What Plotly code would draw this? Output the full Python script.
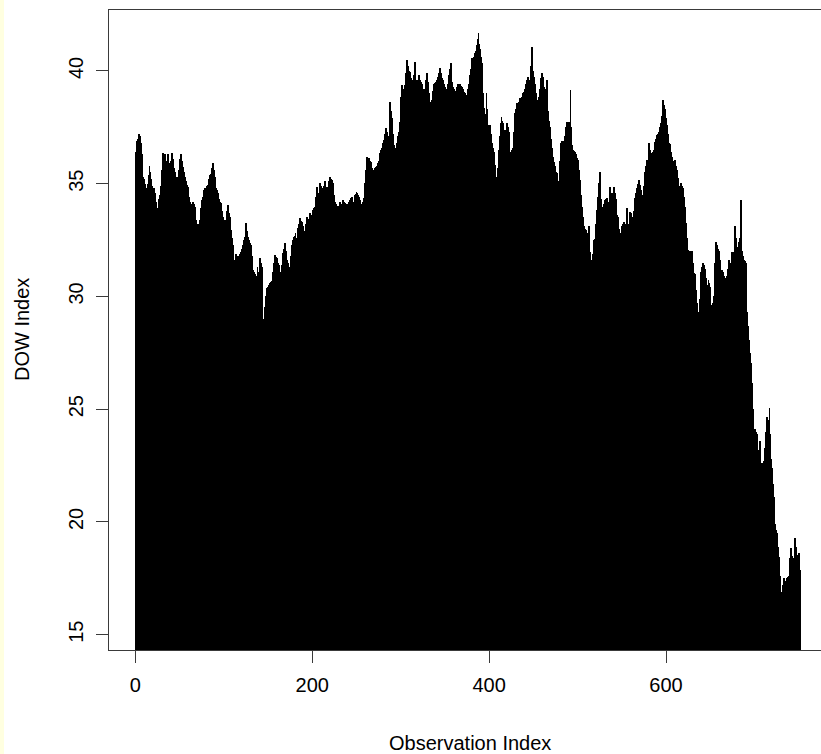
import plotly.graph_objects as go

# Daily DOW index level, one value per observation
dow_values = [
    36.4, 36.9, 37.0, 37.2, 37.1, 36.8, 36.3, 35.8, 35.3, 35.2,
    35.0, 34.6, 34.8, 35.0, 35.4, 35.8, 35.5, 35.2, 34.9, 34.7,
    34.8, 34.6, 34.2, 33.8, 33.9, 33.8, 34.3, 34.5, 34.9, 35.6,
    36.35, 36.2, 36.3, 36.0, 35.9, 36.0, 36.3, 35.9, 35.7, 36.0,
    36.35, 36.2, 36.1, 35.7, 35.5, 35.24, 35.3, 35.24, 35.6, 36.1,
    36.2, 36.3, 36.0, 35.75, 35.5, 35.3, 35.1, 34.94, 34.85, 34.6,
    34.42, 34.2, 33.98, 34.1, 34.2, 34.1, 33.98, 33.7, 33.39, 33.2,
    33.1, 33.2, 33.4, 33.9, 34.28, 34.4, 34.6, 34.72, 34.8, 34.8,
    34.9, 34.94, 35.2, 35.39, 35.45, 35.5, 35.7, 35.9, 35.6, 35.3,
    34.8, 34.7, 34.6, 34.4, 34.3, 34.2, 34.13, 33.8, 33.54, 33.4,
    33.24, 33.4, 33.5, 33.8, 34.05, 33.7, 33.5, 32.95, 32.6, 32.28,
    31.6, 31.03, 31.5, 31.9, 31.8, 31.75, 31.8, 31.9, 31.95, 31.98,
    32.1, 32.3, 32.5, 32.65, 33.24, 32.9, 32.65, 32.5, 32.4, 32.36,
    32.3, 31.8, 31.17, 31.1, 31.0, 30.58, 30.9, 31.32, 31.1, 30.9,
    31.69, 31.5, 31.3, 28.73, 29.0, 29.2, 29.55, 30.0, 30.36, 30.4,
    30.5, 30.6, 30.65, 30.7, 30.9, 31.1, 31.5, 31.84, 31.75, 31.7,
    31.5, 31.4, 31.2, 31.1, 31.0, 31.4, 31.91, 32.1, 32.36, 32.0,
    31.6, 31.55, 31.5, 31.3, 31.2, 31.8, 32.3, 32.5, 32.65, 32.7,
    32.8, 32.6, 32.36, 33.02, 33.2, 33.46, 33.35, 33.3, 33.2, 33.1,
    32.9, 32.8, 33.2, 33.54, 33.45, 33.4, 33.69, 33.5, 33.4, 33.6,
    33.83, 33.9, 33.98, 34.4, 34.87, 34.5, 34.2, 34.6, 35.02, 34.9,
    34.8, 34.8, 34.9, 35.1, 35.0, 34.8, 34.85, 34.85, 35.1, 35.31,
    35.2, 35.15, 35.05, 35.0, 34.5, 34.2, 34.1, 34.0, 33.83, 34.0,
    34.2, 34.0, 33.9, 34.1, 34.28, 34.2, 34.13, 34.1, 34.05, 34.1,
    34.13, 34.2, 34.28, 34.35, 34.42, 34.2, 34.13, 34.5, 34.55, 34.64,
    34.6, 34.5, 34.4, 34.28, 34.1, 33.97, 34.2, 34.35, 34.7, 35.02,
    35.6, 36.2, 36.1, 36.15, 36.0, 35.95, 35.9, 35.7, 35.5, 35.6,
    35.7, 35.75, 35.8, 35.9, 36.0, 36.2, 36.35, 36.5, 36.6, 36.8,
    36.93, 37.2, 37.46, 37.3, 37.2, 37.1, 37.0, 38.64, 38.2, 37.9,
    37.2, 36.7, 36.5, 36.4, 36.6, 36.8, 37.1, 37.3, 37.75, 38.86,
    39.38, 39.1, 39.15, 39.2, 39.38, 39.9, 40.48, 40.2, 40.0, 39.95,
    39.9, 39.7, 39.6, 39.3, 39.8, 40.4, 39.6, 38.9, 39.4, 39.6,
    39.82, 39.6, 39.5, 39.4, 39.2, 39.1, 39.2, 39.3, 39.6, 39.9,
    39.5, 39.0, 38.64, 38.3, 38.7, 39.1, 39.3, 39.4, 39.45, 39.52,
    39.6, 39.75, 39.9, 40.12, 40.0, 39.9, 39.7, 39.6, 39.4, 39.3,
    39.1, 39.2, 39.4, 39.6, 39.8, 40.1, 40.34, 39.5, 39.3, 39.2,
    39.1, 39.0, 39.2, 39.3, 39.4, 39.35, 39.4, 39.35, 39.3, 39.2,
    39.1, 39.05, 39.0, 38.95, 38.9, 39.2, 39.4, 39.8, 40.1, 40.3,
    40.56, 40.5, 40.6, 40.78, 40.9, 41.15, 41.4, 41.67, 41.2, 40.95,
    40.6, 40.34, 39.0, 38.35, 38.1, 37.9, 39.0, 38.3, 37.6, 37.5,
    37.6, 37.2, 36.79, 36.6, 36.4, 36.1, 35.83, 35.3, 34.87, 35.7,
    36.5, 37.1, 37.68, 37.97, 37.8, 37.68, 37.4, 37.1, 37.4, 37.68,
    37.5, 37.3, 36.8, 36.35, 36.4, 36.5, 36.6, 37.3, 38.12, 38.3,
    38.57, 38.45, 38.35, 38.6, 38.79, 38.8, 38.85, 39.0, 39.08, 39.15,
    39.2, 39.4, 39.6, 39.75, 39.6, 39.5, 40.2, 41.08, 40.4, 40.0,
    39.75, 39.4, 39.0, 38.64, 38.7, 38.85, 39.2, 39.4, 39.7, 39.9,
    39.75, 39.3, 38.85, 39.2, 39.6, 38.8, 38.2, 37.8, 37.53, 37.0,
    36.6, 36.2, 35.98, 35.8, 35.7, 35.5, 35.46, 35.1, 34.8, 36.0,
    36.79, 36.9, 36.8, 36.7, 36.9, 37.1, 37.5, 37.75, 37.7, 37.75,
    36.9, 39.15, 37.5, 36.7, 36.5, 36.45, 36.4, 36.3, 36.13, 36.05,
    35.98, 35.6, 35.16, 34.5, 33.98, 33.5, 33.1, 33.0, 32.95, 32.6,
    32.36, 32.8, 33.1, 31.98, 31.6, 31.25, 31.9, 32.4, 32.5, 32.55,
    33.2, 33.83, 34.4, 35.02, 35.5, 34.3, 33.9, 33.5, 33.98, 34.1,
    34.28, 34.3, 34.35, 34.2, 34.05, 34.5, 34.87, 34.6, 34.3, 34.6,
    34.87, 34.6, 34.3, 33.69, 33.6, 33.5, 33.0, 32.36, 32.8, 33.1,
    33.2, 33.32, 32.9, 32.5, 33.2, 33.91, 32.6, 33.2, 33.76, 33.7,
    33.6, 33.5, 33.32, 33.8, 34.35, 34.6, 34.8, 35.0, 35.16, 35.05,
    34.95, 34.7, 34.5, 34.3, 34.9, 35.53, 35.8, 36.05, 35.8, 35.53,
    36.79, 36.5, 36.3, 36.35, 36.4, 36.5, 36.7, 36.86, 37.0, 37.16,
    37.2, 37.3, 37.5, 37.68, 38.0, 38.42, 38.71, 38.5, 38.3, 37.9,
    37.6, 37.2, 36.79, 36.75, 36.7, 36.4, 36.2, 35.98, 36.0, 36.05,
    35.8, 35.6, 35.4, 35.24, 34.9, 34.6, 35.05, 34.9, 34.8, 34.4,
    33.98, 33.6, 33.24, 32.6, 32.06, 32.0, 31.98, 32.0, 32.0, 31.5,
    31.1, 31.05, 31.0, 30.3, 29.7, 28.73, 29.3, 29.9, 30.5, 31.1,
    31.3, 31.47, 31.4, 31.2, 30.8, 30.2, 30.5, 30.73, 30.6, 30.4,
    29.6, 29.32, 29.7, 30.0, 31.5, 32.43, 32.35, 32.3, 32.1, 32.0,
    31.6, 31.17, 31.15, 31.1, 31.0, 30.9, 30.8, 30.7, 30.9, 31.2,
    31.62, 31.5, 31.3, 31.6, 31.98, 31.95, 31.9, 33.1, 32.6, 32.1,
    32.2, 32.4, 32.5, 32.6, 34.28, 32.0, 31.8, 31.6, 31.55, 31.5,
    30.4, 29.32, 28.7, 28.07, 27.5, 27.04, 26.15, 25.0, 23.93, 24.0,
    24.1, 24.0, 23.9, 23.2, 22.45, 23.6, 22.2, 22.6, 22.4, 22.2,
    22.7, 23.27, 24.0, 24.67, 24.5, 24.3, 25.04, 23.9, 22.8, 22.38,
    21.7, 21.12, 19.9, 19.64, 19.5, 19.4, 18.9, 18.46, 17.6, 16.1,
    16.9, 17.2, 17.5, 17.4, 17.3, 17.4, 17.5, 17.55, 17.6, 18.4,
    18.83, 18.5, 18.2, 18.3, 18.4, 19.27, 18.9, 18.5, 18.55, 18.6,
    17.87, 17.87,
]
obs_index = list(range(1, len(dow_values) + 1))

x_ticks = [0, 200, 400, 600]
y_ticks = [15, 20, 25, 30, 35, 40]

W, H = 821, 754
ML, MR, MT, MB = 109, 0, 10, 104
PW, PH = W - ML - MR, H - MT - MB

FONT = "Liberation Sans, Arial, sans-serif"
INK = "#000000"
LINE = "#3a3a3a"

fig = go.Figure(
    go.Bar(
        x=obs_index,
        y=dow_values,
        width=1.0,
        marker=dict(color="#000000", line=dict(width=0)),
        hoverinfo="x+y",
    )
)

axis_common = dict(
    showgrid=False,
    zeroline=False,
    showline=True,
    linecolor=LINE,
    linewidth=1,
    ticks="outside",
    ticklen=12,
    tickwidth=1,
    tickcolor=LINE,
    tickfont=dict(family=FONT, size=20, color=INK),
)

fig.update_layout(
    width=W,
    height=H,
    margin=dict(l=ML, r=MR, t=MT, b=MB, pad=0),
    paper_bgcolor="white",
    plot_bgcolor="white",
    bargap=0,
    showlegend=False,
    xaxis=dict(
        range=[-29.85, 775.2],
        tickvals=x_ticks,
        ticktext=[str(v) for v in x_ticks],
        mirror=True,
        ticklabelstandoff=5,
        **axis_common,
    ),
    yaxis=dict(
        range=[14.32, 42.70],
        tickvals=y_ticks,
        ticktext=[str(v) for v in y_ticks],
        tickangle=-90,
        mirror=False,
        ticklabelstandoff=5,
        **axis_common,
    ),
    annotations=[
        dict(
            text="Observation Index",
            xref="paper", yref="paper",
            x=(470 - ML) / PW, y=(MT + PH - 743) / PH,
            xanchor="center", yanchor="middle",
            showarrow=False,
            font=dict(family=FONT, size=20, color=INK),
        ),
        dict(
            text="DOW Index",
            xref="paper", yref="paper",
            x=(22 - ML) / PW, y=0.5,
            xanchor="center", yanchor="middle",
            textangle=-90,
            showarrow=False,
            font=dict(family=FONT, size=20, color=INK),
        ),
    ],
    shapes=[
        # pale strip along the left edge of the page
        dict(
            type="rect", xref="paper", yref="paper",
            x0=-ML / PW, x1=(4 - ML) / PW,
            y0=-MB / PH, y1=1 + MT / PH,
            fillcolor="#ffffe0", line=dict(width=0), layer="below",
        ),
    ],
)

fig.write_html("out.html")
